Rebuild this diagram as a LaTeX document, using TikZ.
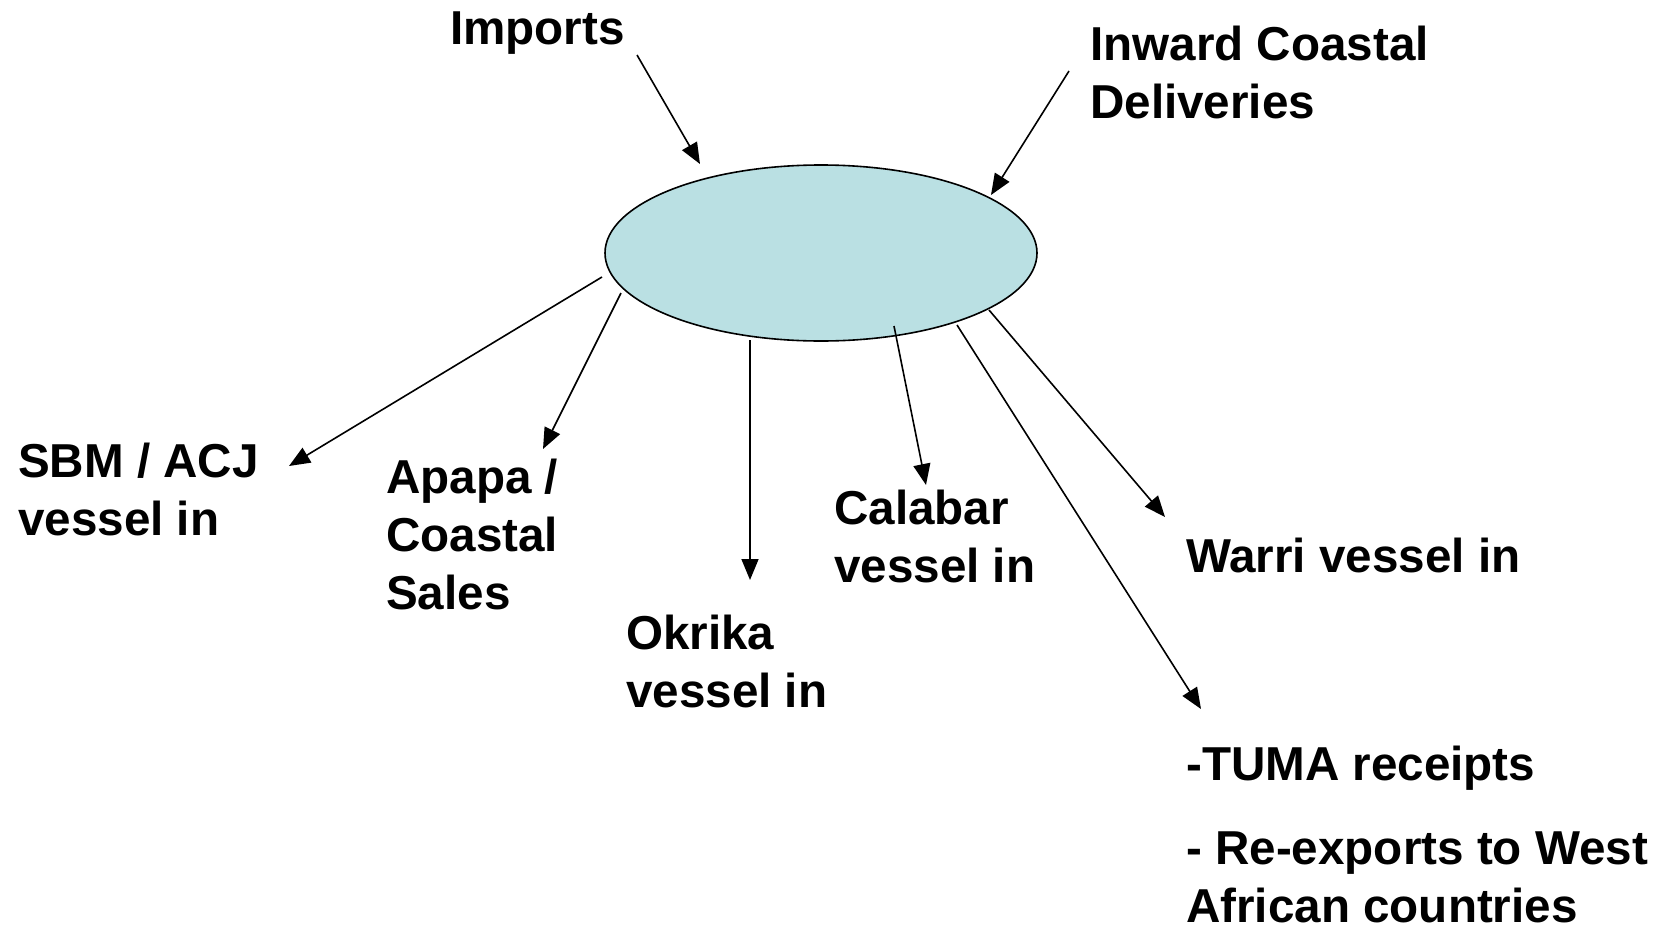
\documentclass[tikz,border=0pt]{standalone}
\usepackage{fontspec}
\setmainfont{Liberation Sans}
\usetikzlibrary{shapes.geometric,arrows.meta}
\definecolor{hubfill}{RGB}{186,224,227}
\begin{document}
\begin{tikzpicture}[x=1pt,y=-1pt,
  lbl/.style={anchor=base west,inner sep=0pt,align=left,font=\fontsize{47.6}{58}\selectfont\bfseries},
  conn/.style={line width=1.6pt,-{Triangle[length=21pt,width=17pt]}},
  hubstyle/.style={ellipse,draw,line width=1.6pt,fill=hubfill,minimum width=432pt,minimum height=176pt,inner sep=0pt}]
\useasboundingbox (0,0) rectangle (1660,929);
\node[hubstyle] (hub) at (821,253) {};
% labels (anchor = baseline of the last line)
\node[lbl] (imports) at (450,44) {Imports};
\node[lbl] (inward) at (1090,118) {Inward Coastal\\Deliveries};
\node[lbl] (sbm) at (18,535) {SBM / ACJ\\vessel in};
\node[lbl] (apapa) at (386,609) {Apapa /\\Coastal\\Sales};
\node[lbl] (okrika) at (626,707) {Okrika\\vessel in};
\node[lbl] (calabar) at (834,582) {Calabar\\vessel in};
\node[lbl] (warri) at (1186,572) {Warri vessel in};
\node[lbl] (tuma) at (1186,780) {-TUMA receipts};
\node[lbl] (reexp) at (1186,922) {- Re-exports to West\\African countries};
% connector end points
\coordinate (impS) at (637,55);   \coordinate (impE) at (700,164);
\coordinate (inwS) at (1069,71);  \coordinate (inwE) at (991,195);
\coordinate (sbmS) at (602,277);  \coordinate (sbmE) at (289,466);
\coordinate (apaS) at (621,293);  \coordinate (apaE) at (543,449);
\coordinate (okrS) at (750,340);  \coordinate (okrE) at (750,580);
\coordinate (calS) at (894,326);  \coordinate (calE) at (926,485);
\coordinate (tumS) at (957,325);  \coordinate (tumE) at (1201,709);
\coordinate (warS) at (989,310);  \coordinate (warE) at (1165,517);
\draw[conn] (impS) -- (impE);
\draw[conn] (inwS) -- (inwE);
\draw[conn] (sbmS) -- (sbmE);
\draw[conn] (apaS) -- (apaE);
\draw[conn] (okrS) -- (okrE);
\draw[conn] (calS) -- (calE);
\draw[conn] (tumS) -- (tumE);
\draw[conn] (warS) -- (warE);
\end{tikzpicture}
\end{document}
